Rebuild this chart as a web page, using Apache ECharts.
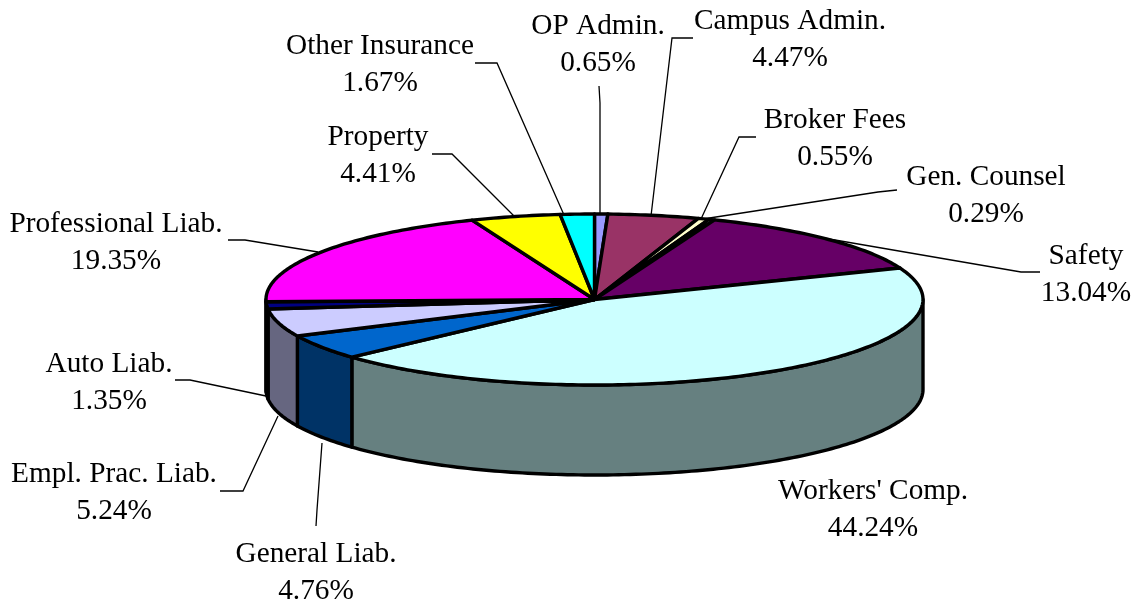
<!DOCTYPE html>
<html>
<head>
<meta charset="utf-8">
<style>
html, body { margin: 0; padding: 0; background: #fff; }
#main { width: 1134px; height: 604px; }
</style>
<script src="https://cdn.jsdelivr.net/npm/echarts@6/dist/echarts.min.js"></script>
</head>
<body>
<div id="main"></div>
<script>
// clockwise from 12 o'clock
var names = ['OP Admin.', 'Campus Admin.', 'Broker Fees', 'Gen. Counsel', 'Safety', "Workers' Comp.",
    'General Liab.', 'Empl. Prac. Liab.', 'Auto Liab.', 'Professional Liab.', 'Property', 'Other Insurance'];
var shares = [0.65, 4.47, 0.55, 0.29, 13.04, 44.24, 4.76, 5.24, 1.35, 19.35, 4.41, 1.67];
var topColors = ['#9999FF', '#993366', '#FFFFCC', '#CCFFFF', '#660066', '#CCFFFF',
    '#0066CC', '#CCCCFF', '#000080', '#FF00FF', '#FFFF00', '#00FFFF'];
var sideColors = ['#4D4D80', '#4D1A33', '#808066', '#668080', '#330033', '#668080',
    '#003366', '#666680', '#000040', '#800080', '#808000', '#008080'];

// label centre and leader line, one per slice, in page pixels
var labelCentres = [[598, 45], [790, 40], [835, 139], [986, 196], [1086, 275], [873, 510],
    [316, 573], [114, 493], [109, 383], [116, 243], [378, 156], [380, 65]];
var leaders = [
    [[599, 86], [600, 103], [600, 215]],
    [[693, 38], [672, 38], [651, 216]],
    [[756, 137], [739, 137], [701, 219]],
    [[897, 190], [878, 192], [703, 219]],
    [[1040, 272], [1021, 272], [800, 234]],
    null,
    [[316, 526], [317, 510], [322, 443]],
    [[220, 491], [243, 491], [278, 416]],
    [[175, 380], [190, 380], [266, 396]],
    [[228, 240], [245, 240], [318, 252]],
    [[432, 154], [452, 154], [515, 217]],
    [[475, 63], [497, 63], [564, 215]]
];

var pie = { cx: 594.5, cy: 299.5, rx: 328.5, ry: 85.5, depth: 90, border: 3.4 };

var total = shares.reduce(function (a, b) { return a + b; }, 0);
var sliceRows = [];
var cum = 0;
shares.forEach(function (v, i) {
    sliceRows.push([cum / total * 360, (cum + v) / total * 360, i]);
    cum += v;
});

function rimPoint(deg, drop) {
    var t = deg * Math.PI / 180;
    return [pie.cx + pie.rx * Math.sin(t), pie.cy - pie.ry * Math.cos(t) + (drop || 0)];
}

function rimArc(from, to, drop) {
    var pts = [];
    var n = Math.max(2, Math.ceil(Math.abs(to - from)));
    for (var k = 0; k <= n; k++) {
        pts.push(rimPoint(from + (to - from) * k / n, drop));
    }
    return pts;
}

function renderSides(params, api) {
    var from = Math.max(api.value(0), 90);
    var to = Math.min(api.value(1), 270);
    if (to <= from) return null;
    var i = api.value(2);
    return {
        type: 'polygon',
        shape: { points: rimArc(from, to, 0).concat(rimArc(to, from, pie.depth)) },
        style: { fill: sideColors[i], stroke: '#000', lineWidth: pie.border, lineJoin: 'round' }
    };
}

function renderTop(params, api) {
    var i = api.value(2);
    return {
        type: 'polygon',
        shape: { points: [[pie.cx, pie.cy]].concat(rimArc(api.value(0), api.value(1), 0)) },
        style: { fill: topColors[i], stroke: '#000', lineWidth: pie.border, lineJoin: 'round' }
    };
}

function renderLabel(params, api) {
    var i = api.value(2);
    var children = [];
    if (leaders[i]) {
        children.push({
            type: 'polyline',
            shape: { points: leaders[i] },
            style: { fill: null, stroke: '#000', lineWidth: 1.3 }
        });
    }
    children.push({
        type: 'text',
        style: {
            x: labelCentres[i][0],
            y: labelCentres[i][1],
            text: names[i] + '\n' + shares[i].toFixed(2) + '%',
            font: '29.3px "Liberation Serif"',
            lineHeight: 37,
            fill: '#000',
            align: 'center',
            verticalAlign: 'middle'
        }
    });
    return { type: 'group', children: children };
}

var chart = echarts.init(document.getElementById('main'));
chart.setOption({
    backgroundColor: '#fff',
    animation: false,
    series: [
        { type: 'custom', coordinateSystem: 'none', silent: true, renderItem: renderLabel, data: sliceRows, z: 1 },
        { type: 'custom', coordinateSystem: 'none', silent: true, renderItem: renderSides, data: sliceRows, z: 2 },
        { type: 'custom', coordinateSystem: 'none', silent: true, renderItem: renderTop, data: sliceRows, z: 3 }
    ]
});
</script>
</body>
</html>
